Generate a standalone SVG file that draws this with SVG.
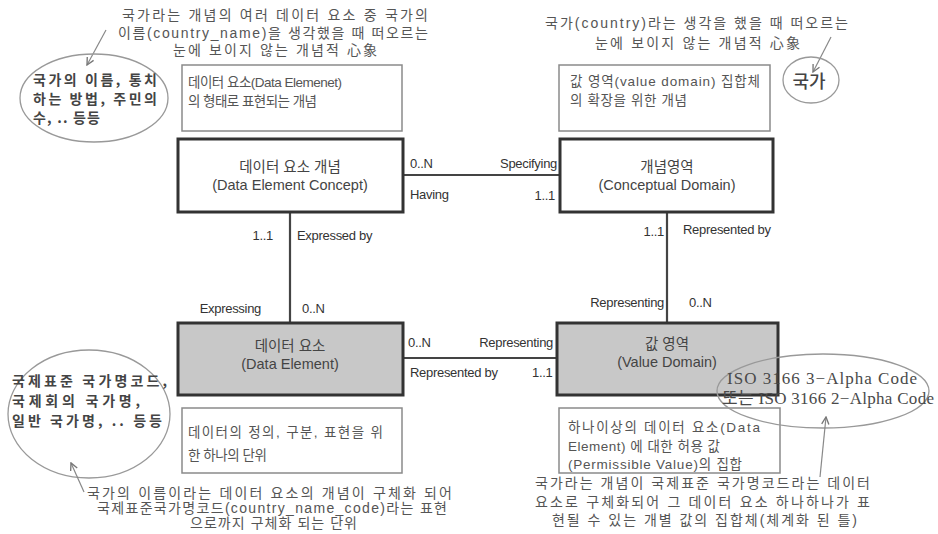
<svg xmlns="http://www.w3.org/2000/svg" width="938" height="534" viewBox="0 0 938 534">
<defs>
<style>
.ko{font-family:"Liberation Sans","Noto Sans CJK KR",sans-serif;}
.ann{font-size:14px;fill:#555;}
.desc{font-size:13.5px;fill:#555;}
.main{stroke:#333;stroke-width:3;}
.dbox{fill:#fff;stroke:#8a8a8a;stroke-width:1.5;}
.title{font-size:14.5px;fill:#444;text-anchor:middle;}
.lbl{font-family:"Liberation Sans",Arial,sans-serif;font-size:13px;fill:#333;letter-spacing:-0.3px;}
.conn{stroke:#444;stroke-width:2.2;fill:none;}
.ell{fill:none;stroke:#999;stroke-width:1.3;}
.bold{font-family:"Noto Sans CJK KR",sans-serif;font-weight:bold;font-size:14px;fill:#444;}
.arr{stroke:#888;stroke-width:1.2;fill:none;marker-end:url(#ah);}
.iso{font-family:"Liberation Serif","Noto Sans CJK KR",serif;font-size:17px;fill:#4a4a4a;}
</style>
<marker id="ah" viewBox="0 0 10 10" refX="9" refY="5" markerWidth="9" markerHeight="9" orient="auto" markerUnits="userSpaceOnUse">
<path d="M1,1 L9,5 L1,9" fill="none" stroke="#777" stroke-width="1.5"/>
</marker>
</defs>
<rect width="938" height="534" fill="#fff"/>

<g id="connectors">
<line class="conn" x1="403" y1="175" x2="560" y2="175"/>
<line class="conn" x1="290" y1="212" x2="290" y2="323"/>
<line class="conn" x1="667" y1="212" x2="667" y2="323"/>
<line class="conn" x1="403" y1="358" x2="557" y2="358"/>
<text class="lbl" x="410" y="168">0..N</text>
<text class="lbl" x="410" y="199">Having</text>
<text class="lbl" x="557" y="168" text-anchor="end">Specifying</text>
<text class="lbl" x="555" y="200" text-anchor="end">1..1</text>
<text class="lbl" x="273" y="240" text-anchor="end">1..1</text>
<text class="lbl" x="297" y="240">Expressed by</text>
<text class="lbl" x="261" y="313" text-anchor="end">Expressing</text>
<text class="lbl" x="302" y="313">0..N</text>
<text class="lbl" x="664" y="236" text-anchor="end">1..1</text>
<text class="lbl" x="683" y="234">Represented by</text>
<text class="lbl" x="664" y="307" text-anchor="end">Representing</text>
<text class="lbl" x="689" y="307">0..N</text>
<text class="lbl" x="408" y="347">0..N</text>
<text class="lbl" x="553" y="347" text-anchor="end">Representing</text>
<text class="lbl" x="410" y="377">Represented by</text>
<text class="lbl" x="532" y="377">1..1</text>
</g>

<g id="dec">
<rect class="main" x="178" y="139" width="225" height="73" fill="#fff"/>
<text class="ko title" x="290" y="172">데이터 요소 개념</text>
<text class="ko title" x="290" y="190">(Data Element Concept)</text>
</g>
<g id="cd">
<rect class="main" x="560" y="139" width="213" height="73" fill="#fff"/>
<text class="ko title" x="667" y="172">개념영역</text>
<text class="ko title" x="667" y="190">(Conceptual Domain)</text>
</g>
<g id="de">
<rect class="main" x="178" y="323" width="225" height="72" fill="#c8c8c8"/>
<text class="ko title" x="290" y="351">데이터 요소</text>
<text class="ko title" x="290" y="369">(Data Element)</text>
</g>
<g id="vd">
<rect class="main" x="557" y="323" width="221" height="72" fill="#c8c8c8"/>
<text class="ko title" x="667" y="349">값 영역</text>
<text class="ko title" x="667" y="367">(Value Domain)</text>
</g>

<g id="desc-dec">
<rect class="dbox" x="182" y="65" width="220" height="66"/>
<text class="ko desc" x="188" y="87" textLength="154" lengthAdjust="spacing">데이터 요소(Data Elemenet)</text>
<text class="ko desc" x="188" y="106" textLength="129" lengthAdjust="spacing">의 형태로 표현되는 개념</text>
</g>
<g id="desc-cd">
<rect class="dbox" x="559" y="65" width="211" height="66"/>
<text class="ko desc" x="570" y="86" textLength="190" lengthAdjust="spacing">값 영역(value domain) 집합체</text>
<text class="ko desc" x="570" y="105" textLength="117" lengthAdjust="spacing">의 확장을 위한 개념</text>
</g>
<g id="desc-de">
<rect class="dbox" x="182" y="408" width="220" height="65"/>
<text class="ko desc" x="188" y="437" textLength="195" lengthAdjust="spacing">데이터의 정의, 구분, 표현을 위</text>
<text class="ko desc" x="188" y="460" textLength="79" lengthAdjust="spacing">한 하나의 단위</text>
</g>
<g id="desc-vd">
<rect class="dbox" x="559" y="408" width="221" height="65"/>
<text class="ko desc" x="568" y="432" textLength="192" lengthAdjust="spacing">하나이상의 데이터 요소(Data</text>
<text class="ko desc" x="568" y="451" textLength="152" lengthAdjust="spacing">Element) 에 대한 허용 값</text>
<text class="ko desc" x="568" y="469" textLength="174" lengthAdjust="spacing">(Permissible Value)의 집합</text>
</g>

<g id="note-top-left">
<text class="ko ann" x="122" y="20" textLength="306" lengthAdjust="spacing">국가라는 개념의 여러 데이터 요소 중 국가의</text>
<text class="ko ann" x="118" y="38" textLength="310" lengthAdjust="spacing">이름(country_name)을 생각했을 때 떠오르는</text>
<text class="ko ann" x="173" y="55" textLength="204" lengthAdjust="spacing">눈에 보이지 않는 개념적 心象</text>
<path class="arr" d="M106,30 L87,65"/>
<ellipse class="ell" cx="94" cy="98" rx="74" ry="44"/>
<text class="bold" x="33" y="85" textLength="124" lengthAdjust="spacing">국가의 이름, 통치</text>
<text class="bold" x="33" y="104" textLength="124" lengthAdjust="spacing">하는 방법, 주민의</text>
<text class="bold" x="33" y="123" textLength="67" lengthAdjust="spacing">수, .. 등등</text>
</g>

<g id="note-top-right">
<text class="ko ann" x="545" y="28" textLength="303" lengthAdjust="spacing">국가(country)라는 생각을 했을 때 떠오르는</text>
<text class="ko ann" x="595" y="48" textLength="205" lengthAdjust="spacing">눈에 보이지 않는 개념적 心象</text>
<path class="arr" d="M831,37 L813,72"/>
<ellipse class="ell" cx="811" cy="80" rx="28" ry="23"/>
<text x="809" y="88" text-anchor="middle" style="font-family:'Noto Sans CJK KR',sans-serif;font-size:18px;font-weight:500;fill:#444">국가</text>
</g>

<g id="note-bottom-left">
<ellipse class="ell" cx="89" cy="414" rx="81" ry="64"/>
<text class="bold" x="12" y="386" textLength="155" lengthAdjust="spacing">국제표준 국가명코드,</text>
<text class="bold" x="12" y="406" textLength="128" lengthAdjust="spacing">국제회의 국가명,</text>
<text class="bold" x="12" y="426" textLength="150" lengthAdjust="spacing">일반 국가명, .. 등등</text>
<path class="arr" d="M84,492 L71,463"/>
<text class="ko ann" x="87" y="498" textLength="365" lengthAdjust="spacing">국가의 이름이라는 데이터 요소의 개념이 구체화 되어</text>
<text class="ko ann" x="97" y="513" textLength="350" lengthAdjust="spacing">국제표준국가명코드(country_name_code)라는 표현</text>
<text class="ko ann" x="190" y="528" textLength="167" lengthAdjust="spacing">으로까지 구체화 되는 단위</text>
</g>

<g id="note-bottom-right">
<ellipse class="ell" cx="823" cy="391" rx="106" ry="37"/>
<text class="iso" x="727" y="384" textLength="190" lengthAdjust="spacing">ISO 3166 3−Alpha Code</text>
<text class="iso" x="722" y="404" textLength="212" lengthAdjust="spacing">또는 ISO 3166 2−Alpha Code</text>
<path class="arr" d="M820,477 L826,417"/>
<text class="ko ann" x="535" y="488" textLength="335" lengthAdjust="spacing">국가라는 개념이 국제표준 국가명코드라는 데이터</text>
<text class="ko ann" x="535" y="507" textLength="335" lengthAdjust="spacing">요소로 구체화되어 그 데이터 요소  하나하나가 표</text>
<text class="ko ann" x="552" y="525" textLength="305" lengthAdjust="spacing">현될 수 있는 개별 값의 집합체(체계화 된 틀)</text>
</g>
</svg>
